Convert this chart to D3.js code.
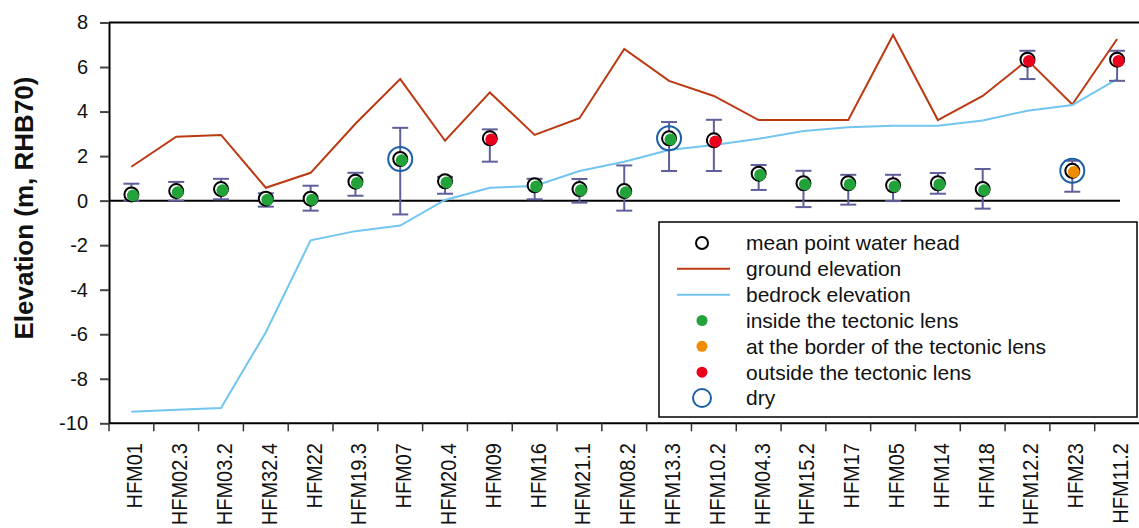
<!DOCTYPE html>
<html>
<head>
    <meta charset="utf-8">
    <script src="https://cdn.jsdelivr.net/npm/d3@7"></script>
</head>
<body style="margin:0px; background:white;">
<svg id="chart" width="1139" height="528"></svg>
<script>
// boreholes along the x axis
var wells = ["HFM01","HFM02.3","HFM03.2","HFM32.4","HFM22","HFM19.3","HFM07","HFM20.4","HFM09","HFM16",
             "HFM21.1","HFM08.2","HFM13.3","HFM10.2","HFM04.3","HFM15.2","HFM17","HFM05","HFM14","HFM18",
             "HFM12.2","HFM23","HFM11.2"];
var ground  = [1.52,2.87,2.95,0.58,1.25,3.45,5.46,2.69,4.86,2.95,3.70,6.81,5.38,4.70,3.62,3.62,3.62,7.44,3.62,4.70,6.31,4.32,7.26];
var bedrock = [-9.48,-9.39,-9.31,-5.91,-1.78,-1.37,-1.12,0.03,0.58,0.66,1.33,1.75,2.27,2.50,2.78,3.13,3.30,3.36,3.36,3.60,4.04,4.29,5.46];
var headMean = [0.28,0.43,0.52,0.09,0.09,0.85,1.87,0.87,2.80,0.69,0.52,0.43,2.80,2.71,1.21,0.78,0.78,0.69,0.78,0.52,6.33,1.34,6.33];
var headMax  = [0.76,0.84,0.98,0.33,0.67,1.25,3.27,1.07,3.20,0.98,0.97,1.58,3.53,3.63,1.60,1.34,1.16,1.16,1.24,1.42,6.73,1.79,6.73];
var headMin  = [0.00,0.00,0.06,-0.27,-0.45,0.22,-0.62,0.31,1.75,0.06,-0.09,-0.45,1.33,1.33,0.48,-0.29,-0.18,-0.02,0.31,-0.36,5.46,0.40,5.38];
// i = inside, b = border, o = outside the tectonic lens
var position = ["i","i","i","i","i","i","i","i","o","i","i","i","i","o","i","i","i","i","i","i","o","b","o"];
var dry = ["HFM07","HFM13.3","HFM23"];
var yTicks = [8,6,4,2,0,-2,-4,-6,-8,-10];
var legendLabels = ["mean point water head","ground elevation","bedrock elevation","inside the tectonic lens",
                    "at the border of the tectonic lens","outside the tectonic lens","dry"];

var colors = {i:"#22a33a", b:"#f08c00", o:"#e8001c"};
var groundColor = "#bb3a12", bedrockColor = "#72c5ef", barColor = "#5f5f9c", dryColor = "#1b5fa6";

var svg = d3.select("#chart");
var font = "'Liberation Sans', Arial, sans-serif";

var x = d3.scaleBand().domain(wells).range([109, 1139.5]);
var y = d3.scaleLinear().domain([-10, 8]).range([423.3, 22.5]);
var cx = function(w){ return x(w) + x.bandwidth()/2; };

//top border
svg.append("line").attr("x1",109).attr("x2",1139).attr("y1",y(8)).attr("y2",y(8))
    .style("stroke","black").style("stroke-width","2px");

//y axis (plain hyphen for negatives, like the original)
var yAxis = svg.append("g").attr("transform","translate(109,0)")
    .call(d3.axisLeft(y).tickValues(yTicks).tickFormat(d => String(d)).tickSize(9).tickPadding(12).tickSizeOuter(0));
yAxis.select(".domain").style("stroke","black").style("stroke-width","2px");
yAxis.selectAll(".tick line").style("stroke","#444").style("stroke-width","2px");
yAxis.selectAll("text").style("font-family",font).style("font-size","20px").style("fill","#111");

//x axis line, ticks between wells and labels
svg.append("line").attr("x1",109).attr("x2",1139).attr("y1",y(-10)).attr("y2",y(-10))
    .style("stroke","black").style("stroke-width","2px");
svg.selectAll(".xtick").data(wells).enter().append("line")
    .attr("x1", d => x(d)).attr("x2", d => x(d))
    .attr("y1", y(-10)).attr("y2", y(-10) + 8)
    .style("stroke","#333").style("stroke-width","1.5px");
svg.selectAll(".xlab").data(wells).enter().append("text")
    .attr("transform", d => "translate(" + cx(d) + ",443) rotate(-90) scale(1,1.1)")
    .attr("text-anchor","end").attr("dy","0.5em")
    .style("font-family",font).style("font-size","20px").style("fill","#111")
    .text(d => d);

//y title
svg.append("text").attr("transform","translate(33,208) rotate(-90)")
    .attr("text-anchor","middle")
    .style("font-family",font).style("font-size","26px").style("font-weight","bold").style("fill","#111")
    .text("Elevation (m, RHB70)");

//zero line
svg.append("line").attr("x1",109).attr("x2",1120).attr("y1",y(0)).attr("y2",y(0))
    .style("stroke","black").style("stroke-width","2px");

//ground and bedrock lines
var line = d3.line().x((d,i) => cx(wells[i])).y(d => y(d));
svg.append("path").datum(ground).attr("d",line)
    .style("fill","none").style("stroke",groundColor).style("stroke-width","2px");
svg.append("path").datum(bedrock).attr("d",line)
    .style("fill","none").style("stroke",bedrockColor).style("stroke-width","2px");

//error bars
var bars = svg.selectAll(".err").data(wells).enter().append("g");
bars.append("line").attr("x1",cx).attr("x2",cx)
    .attr("y1",(d,i) => y(headMax[i])).attr("y2",(d,i) => y(headMin[i]));
bars.append("line").attr("x1",d => cx(d)-8).attr("x2",d => cx(d)+8)
    .attr("y1",(d,i) => y(headMax[i])).attr("y2",(d,i) => y(headMax[i]));
bars.append("line").attr("x1",d => cx(d)-8).attr("x2",d => cx(d)+8)
    .attr("y1",(d,i) => y(headMin[i])).attr("y2",(d,i) => y(headMin[i]));
bars.selectAll("line").style("stroke",barColor).style("stroke-width","2px");

//mean head: black ring with the coloured dot slightly offset
svg.selectAll(".mean").data(wells).enter().append("circle")
    .attr("cx",cx).attr("cy",(d,i) => y(headMean[i])).attr("r",7)
    .style("fill","white").style("stroke","black").style("stroke-width","2px");
svg.selectAll(".dot").data(wells).enter().append("circle")
    .attr("cx",d => cx(d)+1.5).attr("cy",(d,i) => y(headMean[i])+1.2).attr("r",6)
    .style("fill",(d,i) => colors[position[i]]);
svg.selectAll(".dry").data(dry).enter().append("circle")
    .attr("cx",cx).attr("cy",d => y(headMean[wells.indexOf(d)])).attr("r",12)
    .style("fill","none").style("stroke",dryColor).style("stroke-width","2px");

//legend
var lg = svg.append("g");
lg.append("rect").attr("x",659).attr("y",222).attr("width",478).attr("height",195)
    .style("fill","white").style("stroke","black").style("stroke-width","1.5px");
var rowY = d3.scalePoint().domain(legendLabels).range([243, 398]);
lg.selectAll(".lt").data(legendLabels).enter().append("text")
    .attr("x",746).attr("y",d => rowY(d)).attr("dy","0.35em")
    .style("font-family",font).style("font-size","21px").style("fill","#111")
    .text(d => d);
lg.append("circle").attr("cx",702).attr("cy",rowY(legendLabels[0])).attr("r",6)
    .style("fill","none").style("stroke","black").style("stroke-width","2px");
lg.append("line").attr("x1",677).attr("x2",730).attr("y1",rowY(legendLabels[1])).attr("y2",rowY(legendLabels[1]))
    .style("stroke",groundColor).style("stroke-width","2px");
lg.append("line").attr("x1",677).attr("x2",730).attr("y1",rowY(legendLabels[2])).attr("y2",rowY(legendLabels[2]))
    .style("stroke",bedrockColor).style("stroke-width","2px");
["i","b","o"].forEach(function(k,j){
    lg.append("circle").attr("cx",702).attr("cy",rowY(legendLabels[3+j])).attr("r",5.5).style("fill",colors[k]);
});
lg.append("circle").attr("cx",702).attr("cy",rowY(legendLabels[6])).attr("r",9)
    .style("fill","none").style("stroke",dryColor).style("stroke-width","2px");
</script>
</body>
</html>
